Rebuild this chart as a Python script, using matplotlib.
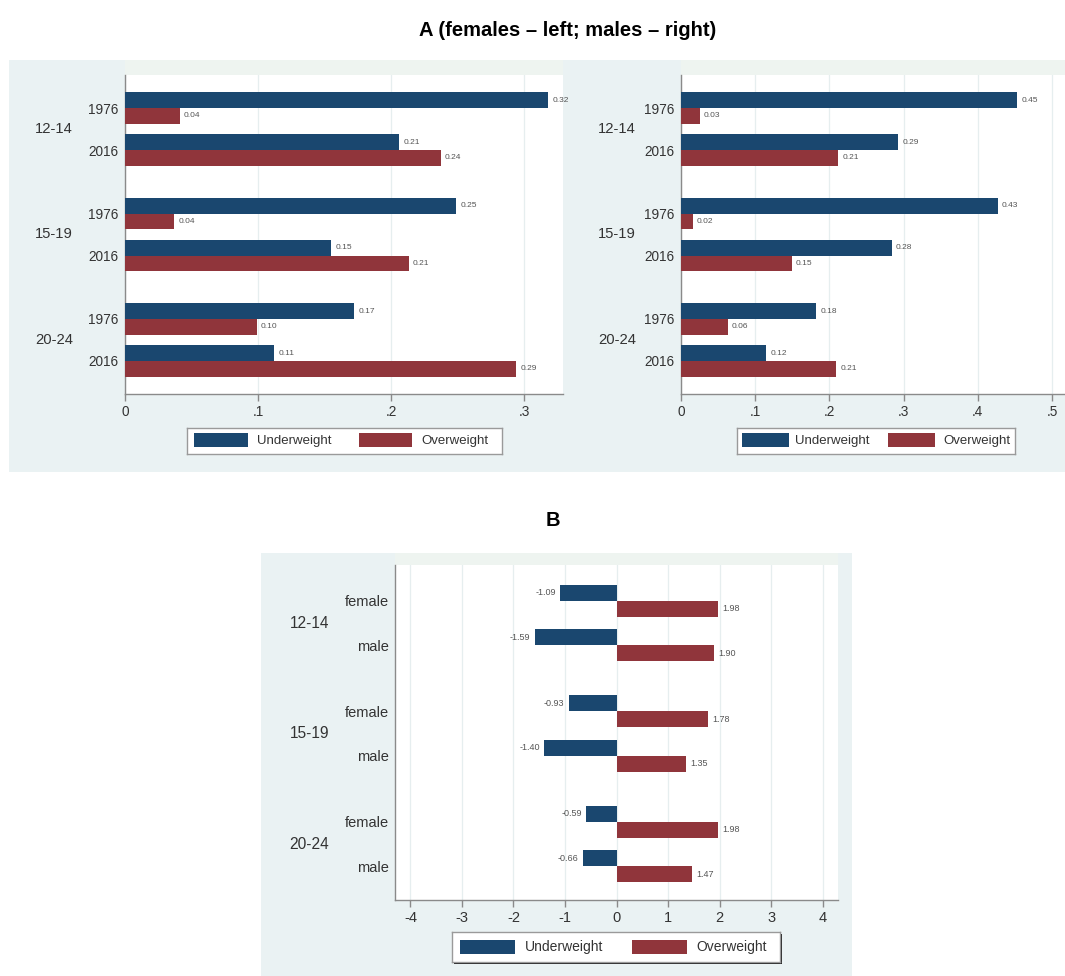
import matplotlib
matplotlib.use('Agg')
import matplotlib.pyplot as plt
from matplotlib.patches import Rectangle

plt.rcParams['font.family'] = ['Liberation Sans', 'DejaVu Sans']

# ---------------- data ----------------
ages = ["12-14", "15-19", "20-24"]
years = ["1976", "2016"]
sexes = ["female", "male"]
series = ["Underweight", "Overweight"]

# Panel A, order: (12-14,1976),(12-14,2016),(15-19,1976),...
fem_under = [0.318, 0.206, 0.249, 0.155, 0.172, 0.112]
fem_over = [0.041, 0.237, 0.037, 0.213, 0.099, 0.294]
male_under = [0.453, 0.293, 0.427, 0.284, 0.182, 0.115]
male_over = [0.025, 0.212, 0.016, 0.149, 0.063, 0.209]

# Panel B, order: (12-14,female),(12-14,male),(15-19,female),...
b_under = [-1.09, -1.59, -0.93, -1.40, -0.59, -0.66]
b_over = [1.98, 1.90, 1.78, 1.35, 1.98, 1.47]

a_left_ticks = [0, 0.1, 0.2, 0.3]
a_right_ticks = [0, 0.1, 0.2, 0.3, 0.4, 0.5]
b_ticks = [-4, -3, -2, -1, 0, 1, 2, 3, 4]

# ---------------- style ----------------
W, H = 1065, 976
NAVY = '#1A476F'
MAROON = '#90353B'
BG = '#EAF2F3'
STRIP = '#EEF4F0'
AXC = '#8a8a8a'
GRID = '#e6eeef'

fig = plt.figure(figsize=(W / 100, H / 100), dpi=100, facecolor='white')


def rect(x0, y0, x1, y1):
    return [x0 / W, 1 - y1 / H, (x1 - x0) / W, (y1 - y0) / H]


def bgrect(x0, y0, x1, y1, color, z=-10):
    fig.add_artist(Rectangle((x0 / W, 1 - y1 / H), (x1 - x0) / W, (y1 - y0) / H,
                             transform=fig.transFigure, facecolor=color,
                             edgecolor='none', zorder=z))


def stata_lbl(t):
    if t == 0:
        return '0'
    s = f"{t:g}"
    if s.startswith('0.'):
        s = s[1:]
    elif s.startswith('-0.'):
        s = '-' + s[2:]
    return s


def panel(px, xlim, ticks, inner, outer, under, over, first, win, grp, bh,
          outer_right_px, fs_in, fs_out, fs_tick, fs_val):
    x0, y0, x1, y1 = px
    ax = fig.add_axes(rect(x0, y0, x1, y1))
    ax.set_facecolor('white')
    centers = [first + g * grp + s * win for g in range(len(outer)) for s in range(len(inner))]
    yu = [c - bh / 2 for c in centers]
    yo = [c + bh / 2 for c in centers]
    ax.barh(yu, under, height=bh, color=NAVY, edgecolor='none', zorder=3)
    ax.barh(yo, over, height=bh, color=MAROON, edgecolor='none', zorder=3)
    ax.set_xlim(*xlim)
    ax.set_ylim(y1, y0)
    for v, y in zip(under, yu):
        if v >= 0:
            ax.annotate(f"{v:.2f}", (v, y), xytext=(3, 0), textcoords='offset points',
                        ha='left', va='center', fontsize=fs_val, color='#555555')
        else:
            ax.annotate(f"{v:.2f}", (v, y), xytext=(-3, 0), textcoords='offset points',
                        ha='right', va='center', fontsize=fs_val, color='#555555')
    for v, y in zip(over, yo):
        ax.annotate(f"{v:.2f}", (v, y), xytext=(3, 0), textcoords='offset points',
                    ha='left', va='center', fontsize=fs_val, color='#555555')
    ax.set_yticks(centers)
    ax.set_yticklabels(inner * len(outer), fontsize=fs_in, color='#333333')
    ax.tick_params(axis='y', length=0, pad=4.5)
    ax.set_xticks(ticks)
    ax.set_xticklabels([stata_lbl(t) for t in ticks], fontsize=fs_tick, color='#333333')
    ax.tick_params(axis='x', length=5, width=1, color=AXC, pad=3, direction='out')
    ax.grid(axis='x', color=GRID, lw=0.9, zorder=0)
    ax.set_axisbelow(True)
    for s in ['top', 'right']:
        ax.spines[s].set_visible(False)
    for s in ['left', 'bottom']:
        ax.spines[s].set_color(AXC)
        ax.spines[s].set_linewidth(1)
    ox = (outer_right_px - x0) / (x1 - x0)
    for g, lab in enumerate(outer):
        yc = first + g * grp + win / 2
        ax.text(ox, yc, lab, transform=ax.get_yaxis_transform(), ha='right', va='center',
                fontsize=fs_out, color='#333333')
    return ax


def legend(box, p1, t1, p2, t2, py, fs, shadow=False):
    x0, y0, x1, y1 = box
    if shadow:
        bgrect(x0 + 2, y0 + 2, x1 + 2, y1 + 2, '#222222', z=-5)
    lax = fig.add_axes(rect(x0, y0, x1, y1))
    lax.set_xlim(x0, x1)
    lax.set_ylim(y1, y0)
    lax.set_facecolor('white')
    lax.set_xticks([])
    lax.set_yticks([])
    for s in lax.spines.values():
        s.set_color('#9a9a9a')
        s.set_linewidth(1)
    lax.add_patch(Rectangle((p1[0], py[0]), p1[1] - p1[0], py[1] - py[0], facecolor=NAVY, edgecolor='none'))
    lax.add_patch(Rectangle((p2[0], py[0]), p2[1] - p2[0], py[1] - py[0], facecolor=MAROON, edgecolor='none'))
    ym = (y0 + y1) / 2
    lax.text(t1, ym, series[0], ha='left', va='center', fontsize=fs, color='#333333')
    lax.text(t2, ym, series[1], ha='left', va='center', fontsize=fs, color='#333333')


# ---------------- backgrounds ----------------
bgrect(9, 60, 1065, 472, BG)
bgrect(125, 60, 563, 75, STRIP, z=-9)
bgrect(681, 60, 1065, 75, STRIP, z=-9)
bgrect(261, 553, 852, 976, BG)
bgrect(395, 553, 838, 565, STRIP, z=-9)

# ---------------- titles ----------------
fig.text(568 / W, 1 - 30 / H, "A (females \u2013 left; males \u2013 right)", ha='center', va='center',
         fontsize=14.5, fontweight='bold', color='black')
fig.text(553 / W, 1 - 520 / H, "B", ha='center', va='center',
         fontsize=14.5, fontweight='bold', color='black')

# ---------------- panel A ----------------
panel((125, 75, 563, 394), (0, 0.329), a_left_ticks, years, ages, fem_under, fem_over,
      108, 42, 105.5, 15.8, 73, 9.8, 10.6, 9.8, 6)
panel((681, 75, 1065, 394), (0, 0.5175), a_right_ticks, years, ages, male_under, male_over,
      108, 42, 105.5, 15.8, 636, 9.8, 10.6, 9.8, 6)

legend((187, 428, 502, 454), (194, 248), 257, (359, 412), 421, (433, 447), 9.5)
legend((736.5, 428, 1015, 454), (742, 789), 795.5, (888, 935), 943, (433, 447), 9.5)

# ---------------- panel B ----------------
panel((395, 565, 838, 900), (-4.3, 4.3), b_ticks, sexes, ages, b_under, b_over,
      601, 44.5, 110.5, 16, 329, 10.5, 11.2, 10.5, 6.5)
legend((452, 932, 780, 962), (460, 515), 524.5, (632, 687), 696.5, (940, 954), 10, shadow=True)

fig.savefig('out.png', dpi=100, facecolor='white')
